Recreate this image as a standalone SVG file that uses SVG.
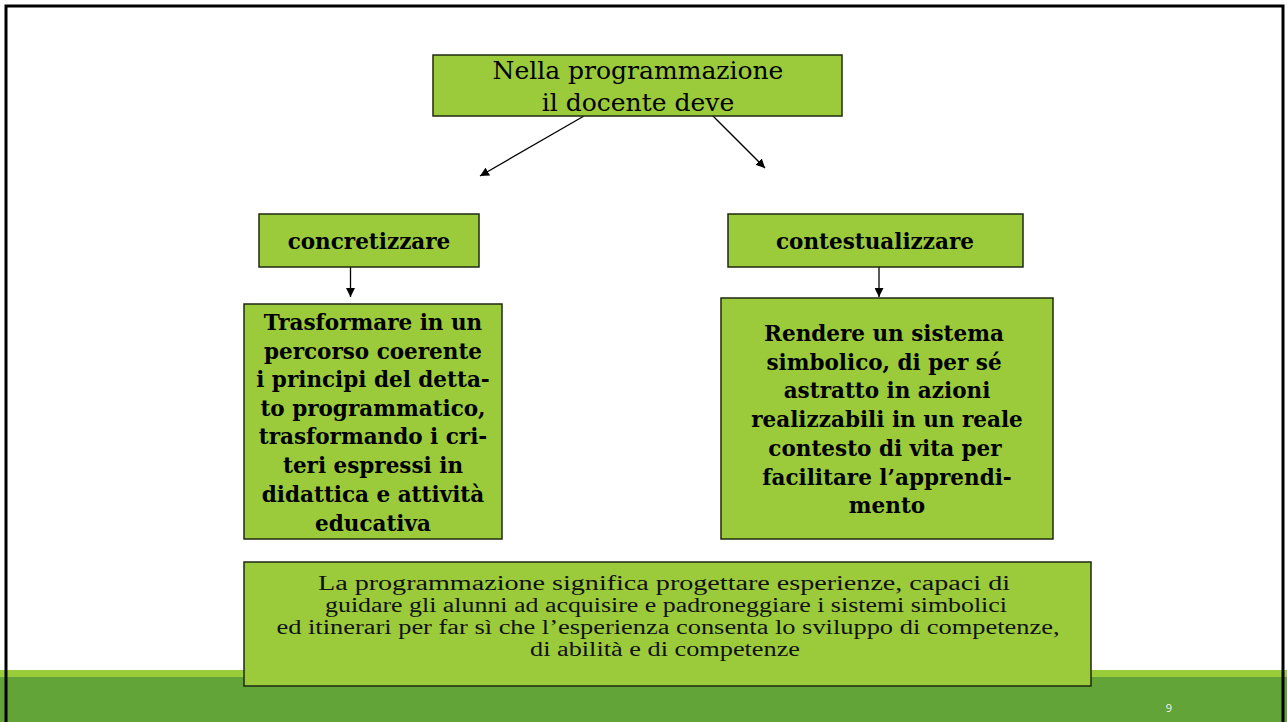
<svg xmlns="http://www.w3.org/2000/svg" width="1287" height="722" viewBox="0 0 1287 722">
<defs>
<marker id="ah" viewBox="0 0 10 10" refX="10" refY="5" markerWidth="9" markerHeight="9" markerUnits="userSpaceOnUse" orient="auto">
<path d="M0,0 L10,5 L0,10 z" fill="#000"/>
</marker>
</defs>
<style>
.box{fill:#9BCB3B;stroke:#1f2a10;stroke-width:1.5}
.t{font-family:"DejaVu Serif","Liberation Serif",serif;fill:#000;text-anchor:middle}
.b{font-weight:bold;font-size:21.5px}
.s{font-family:"Liberation Serif","DejaVu Serif",serif;font-size:20px;fill:#111;text-anchor:middle}
.edge{stroke:#000;stroke-width:1.3;fill:none;marker-end:url(#ah)}
</style>
<rect x="0" y="0" width="1287" height="722" fill="#fff"/>
<g id="footer">
<rect x="0" y="670" width="1287" height="8" fill="#9ACD3A"/>
<rect x="0" y="677" width="1287" height="45" fill="#62A437"/>
<text x="1169" y="712" font-family="'Open Sans','Noto Sans',sans-serif" font-size="11" fill="#f2f2f2" text-anchor="middle">9</text>
</g>
<rect id="frame" x="6" y="6" width="1277" height="730" fill="none" stroke="#000" stroke-width="3"/>
<g id="connectors">
<line class="edge" x1="584" y1="116" x2="480" y2="176"/>
<line class="edge" x1="706" y1="109" x2="765" y2="168"/>
<line class="edge" x1="350.5" y1="267" x2="350.5" y2="297"/>
<line class="edge" x1="879" y1="267" x2="879" y2="297"/>
</g>
<g id="n_top">
<rect class="box" x="433" y="55" width="409" height="61"/>
<text class="t" font-size="25" x="638" y="79">Nella programmazione</text>
<text class="t" font-size="25" x="638" y="111">il docente deve</text>
</g>
<g id="n_concretizzare">
<rect class="box" x="259" y="214" width="220" height="53"/>
<text class="t b" x="369" y="249">concretizzare</text>
</g>
<g id="n_contestualizzare">
<rect class="box" x="728" y="214" width="295" height="53"/>
<text class="t b" x="875" y="249">contestualizzare</text>
</g>
<g id="n_left">
<rect class="box" x="244" y="304" width="258" height="235"/>
<text class="t b" x="373" y="330">Trasformare in un</text>
<text class="t b" x="373" y="359">percorso coerente</text>
<text class="t b" x="373" y="387">i principi del detta-</text>
<text class="t b" x="373" y="416">to programmatico,</text>
<text class="t b" x="373" y="444">trasformando i cri-</text>
<text class="t b" x="373" y="473">teri espressi in</text>
<text class="t b" x="373" y="502">didattica e attività</text>
<text class="t b" x="373" y="531">educativa</text>
</g>
<g id="n_right">
<rect class="box" x="721" y="298" width="332" height="241"/>
<text class="t b" x="884" y="341">Rendere un sistema</text>
<text class="t b" x="884" y="370">simbolico, di per sé</text>
<text class="t b" x="887" y="398">astratto in azioni</text>
<text class="t b" x="887" y="427">realizzabili in un reale</text>
<text class="t b" x="885" y="456">contesto di vita per</text>
<text class="t b" x="887" y="485">facilitare l’apprendi-</text>
<text class="t b" x="887" y="513">mento</text>
</g>
<g id="n_bottom">
<rect class="box" x="244" y="562" width="847" height="124"/>
<text class="s" x="664" y="590" textLength="692" lengthAdjust="spacingAndGlyphs">La programmazione significa progettare esperienze, capaci di</text>
<text class="s" x="666" y="612" textLength="682" lengthAdjust="spacingAndGlyphs">guidare gli alunni ad acquisire e padroneggiare i sistemi simbolici</text>
<text class="s" x="668" y="634" textLength="783" lengthAdjust="spacingAndGlyphs">ed itinerari per far sì che l’esperienza consenta lo sviluppo di competenze,</text>
<text class="s" x="665" y="656" textLength="270" lengthAdjust="spacingAndGlyphs">di abilità e di competenze</text>
</g>
</svg>
